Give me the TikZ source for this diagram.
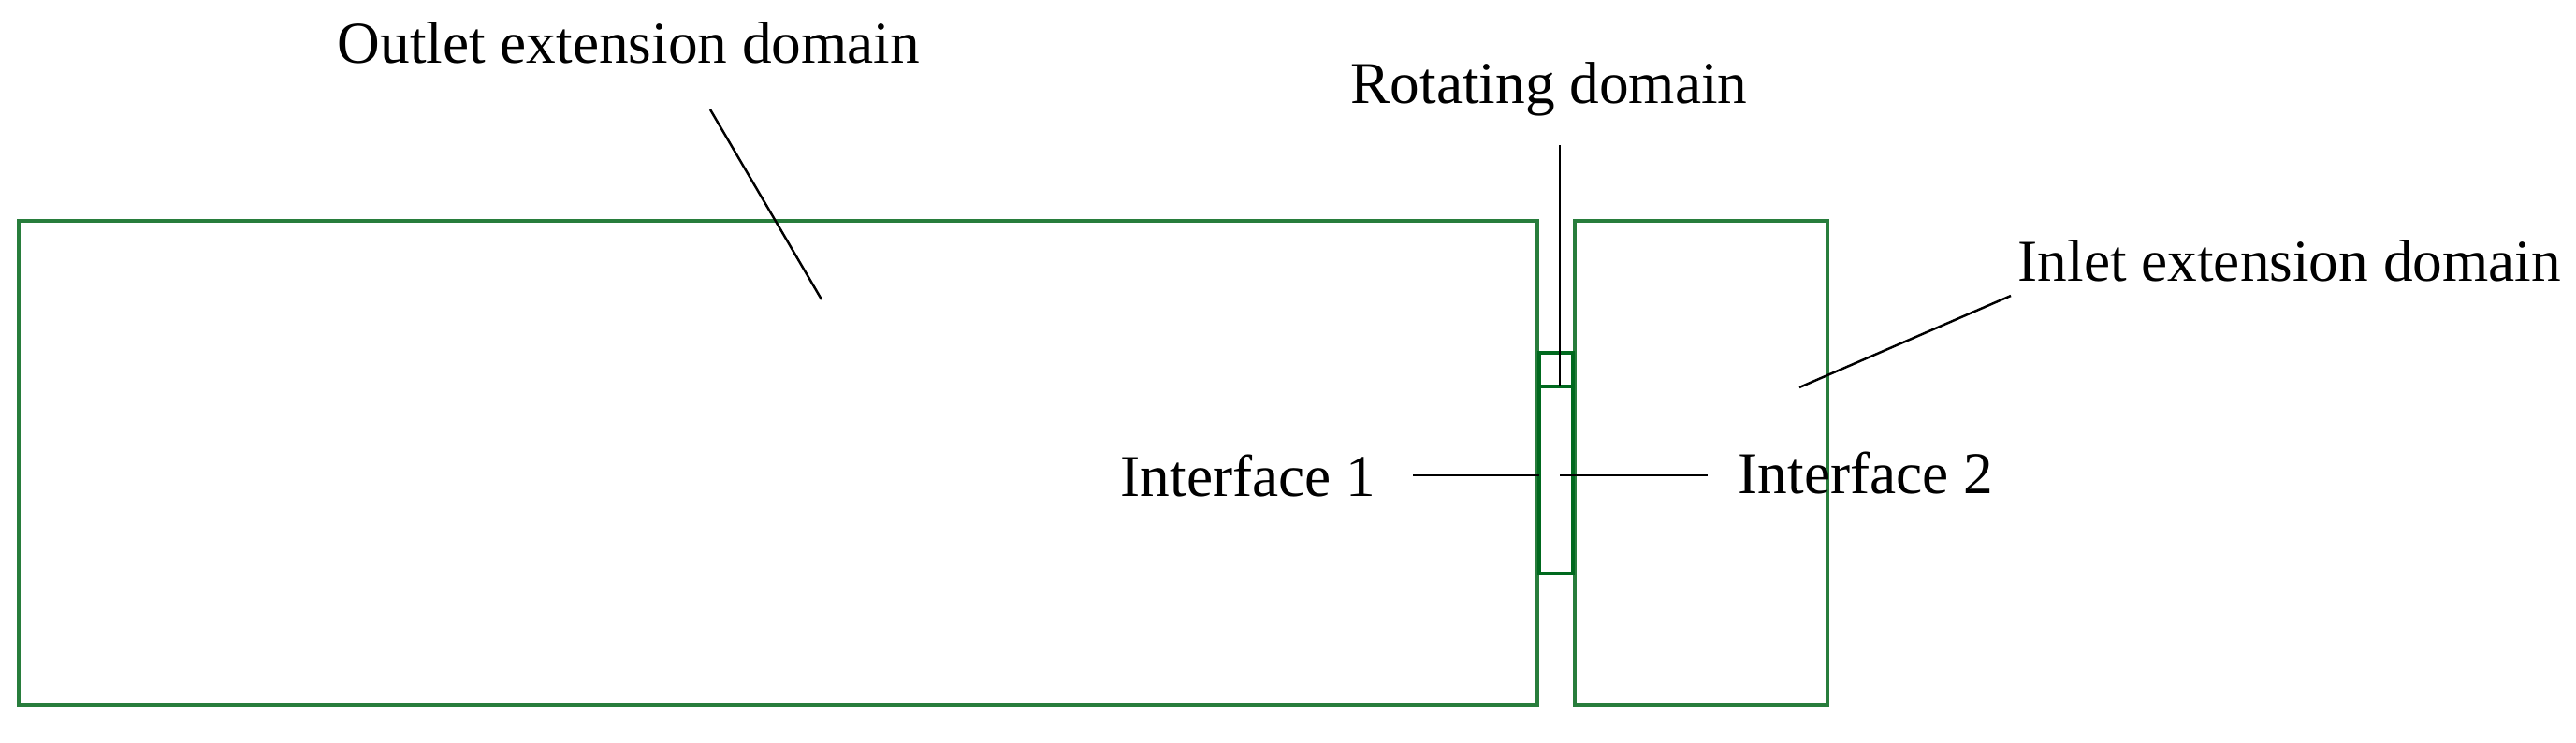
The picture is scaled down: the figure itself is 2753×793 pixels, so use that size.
\documentclass[tikz,border=0pt]{standalone}
\usepackage{fontspec}
\setmainfont{Liberation Serif}
\usepackage{tikz}
\usetikzlibrary{positioning,calc}
\definecolor{domaingreen}{RGB}{40,125,60}
\definecolor{rotgreen}{RGB}{0,105,30}
\tikzset{
    domainbox/.style={draw=domaingreen,line width=0.9pt},
    rotbox/.style={draw=rotgreen,line width=1.4pt},
    leader/.style={draw=black,line width=0.7pt},
    lbl/.style={inner sep=0pt,anchor=base west,font=\fontsize{18}{20}\selectfont}
}
\begin{document}
\begin{tikzpicture}[x=0.01cm,y=-0.01cm]
    \useasboundingbox (0,0) rectangle (2753,793);

    % domains
    \draw[domainbox] (20,236) rectangle (1643,753);
    \draw[domainbox] (1683,236) rectangle (1953,753);
    \draw[rotbox] (1645,377) rectangle (1681,613);
    \draw[rotbox] (1645,413) -- (1681,413);

    % labels
    \node[lbl] (outlet) at (360,67) {Outlet extension domain};
    \node[lbl] (rot) at (1443,110) {Rotating domain};
    \node[lbl] (inlet) at (2156,300) {Inlet extension domain};
    \node[lbl] (if1) at (1197,530) {Interface 1};
    \node[lbl] (if2) at (1857,527) {Interface 2};

    % leader ends
    \coordinate (outletA) at (759,117);
    \coordinate (outletB) at (878,320);
    \coordinate (rotA) at (1667,155);
    \coordinate (rotB) at (1667,413);
    \coordinate (inletA) at (2149,316);
    \coordinate (inletB) at (1923,414);
    \coordinate (ifoneA) at (1510,508);
    \coordinate (ifoneB) at (1645,508);
    \coordinate (iftwoA) at (1667,508);
    \coordinate (iftwoB) at (1825,508);

    \draw[leader] (outletA) -- (outletB);
    \draw[leader] (rotA) -- (rotB);
    \draw[leader] (inletA) -- (inletB);
    \draw[leader] (ifoneA) -- (ifoneB);
    \draw[leader] (iftwoA) -- (iftwoB);
\end{tikzpicture}
\end{document}
